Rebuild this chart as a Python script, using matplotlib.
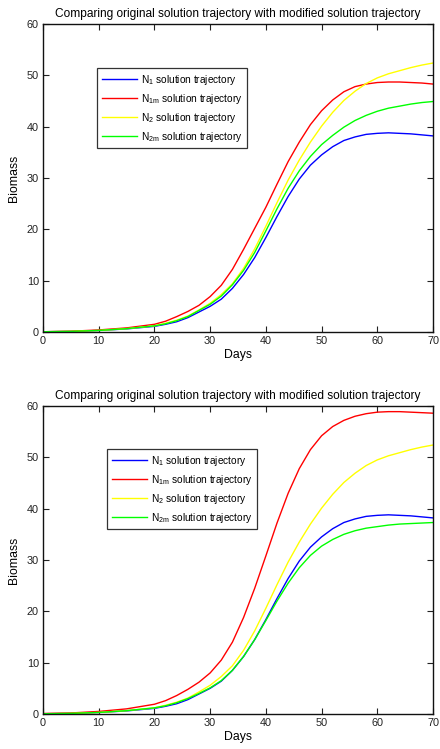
import matplotlib
matplotlib.use("Agg")
import matplotlib.pyplot as plt

plt.rcParams['font.family'] = ['Liberation Sans', 'DejaVu Sans']
plt.rcParams['mathtext.default'] = 'regular'

days = [0, 5, 10, 15, 20, 22, 24, 26, 28, 30, 32, 34, 36, 38, 40, 42, 44, 46, 48,
        50, 52, 54, 56, 58, 60, 62, 64, 66, 68, 70]

# original trajectories (identical in both panels)
n1 = [0.05, 0.12, 0.3, 0.6, 1.1, 1.5, 2.0, 2.8, 3.9, 5.0, 6.4, 8.5, 11.2, 14.5, 18.4,
      22.5, 26.4, 29.8, 32.5, 34.5, 36.1, 37.3, 38.0, 38.5, 38.7, 38.8, 38.7, 38.6, 38.4, 38.2]
n2 = [0.05, 0.12, 0.3, 0.65, 1.2, 1.7, 2.3, 3.1, 4.3, 5.6, 7.3, 9.4, 12.4, 16.2, 20.6,
      25.2, 29.6, 33.5, 37.0, 40.1, 42.8, 45.1, 46.9, 48.4, 49.5, 50.3, 50.9, 51.5, 52.0, 52.4]

# modified trajectories, top panel
n1m_top = [0.05, 0.15, 0.4, 0.8, 1.5, 2.1, 3.0, 4.0, 5.2, 6.9, 9.1, 12.2, 16.1, 20.2, 24.3,
           28.8, 33.2, 37.0, 40.4, 43.1, 45.2, 46.8, 47.8, 48.3, 48.6, 48.7, 48.7, 48.6, 48.5, 48.3]
n2m_top = [0.05, 0.12, 0.3, 0.65, 1.2, 1.6, 2.2, 3.0, 4.2, 5.4, 7.0, 9.2, 12.0, 15.5, 19.7,
           24.0, 28.0, 31.4, 34.2, 36.5, 38.3, 39.9, 41.2, 42.2, 43.0, 43.6, 44.0, 44.4, 44.7, 44.9]

# modified trajectories, bottom panel
n1m_bot = [0.1, 0.2, 0.5, 1.0, 1.9, 2.6, 3.6, 4.8, 6.2, 8.0, 10.5, 14.0, 18.8, 24.5, 30.8,
           37.2, 43.0, 47.8, 51.5, 54.2, 56.0, 57.2, 58.0, 58.5, 58.8, 58.9, 58.9, 58.8, 58.7, 58.6]
n2m_bot = [0.05, 0.12, 0.3, 0.65, 1.2, 1.6, 2.2, 3.0, 4.0, 5.1, 6.5, 8.5, 11.2, 14.5, 18.2,
           22.0, 25.5, 28.5, 30.9, 32.7, 34.0, 35.0, 35.7, 36.2, 36.5, 36.8, 37.0, 37.1, 37.2, 37.3]

labels = [r'N$_1$ solution trajectory', r'N$_{1m}$ solution trajectory',
          r'N$_2$ solution trajectory', r'N$_{2m}$ solution trajectory']
colors = ['#0000ff', '#ff0000', '#ffff00', '#00ff00']
title = 'Comparing original solution trajectory with modified solution trajectory'
xticks = [0, 10, 20, 30, 40, 50, 60, 70]
yticks = [0, 10, 20, 30, 40, 50, 60]

W, H = 440, 749
fig = plt.figure(figsize=(W / 100, H / 100), dpi=100)

def make_ax(top_px, legend_bbox, series):
    left, right = 43, 433
    bottom = top_px + 308
    ax = fig.add_axes([left / W, 1 - bottom / H, (right - left) / W, 308 / H])
    for y, c, lab in zip(series, colors, labels):
        ax.plot(days, y, color=c, lw=1.0, label=lab)
    ax.set_xlim(0, 70)
    ax.set_ylim(0, 60)
    ax.set_xticks(xticks)
    ax.set_yticks(yticks)
    ax.tick_params(direction='in', top=True, right=True, length=4, width=0.8,
                   labelsize=7.8, colors='#222222', pad=3)
    for s in ax.spines.values():
        s.set_linewidth(1.0)
        s.set_color('#111111')
    ax.set_xlabel('Days', fontsize=8.8, labelpad=2)
    ax.set_ylabel('Biomass', fontsize=8.8, labelpad=5)
    ax.set_title(title, fontsize=8.6, pad=5)
    leg = ax.legend(loc='upper left', bbox_to_anchor=legend_bbox, fontsize=7.3,
                    frameon=True, fancybox=False, edgecolor='black',
                    handlelength=3.5, handletextpad=0.35, labelspacing=0.5,
                    borderpad=0.45, borderaxespad=0)
    leg.get_frame().set_linewidth(0.9)
    return ax

make_ax(24, ((97 - 43) / 390, (332 - 68) / 308), [n1, n1m_top, n2, n2m_top])
make_ax(406, ((107 - 43) / 390, (714 - 449) / 308), [n1, n1m_bot, n2, n2m_bot])

fig.savefig('out.png', dpi=100)
